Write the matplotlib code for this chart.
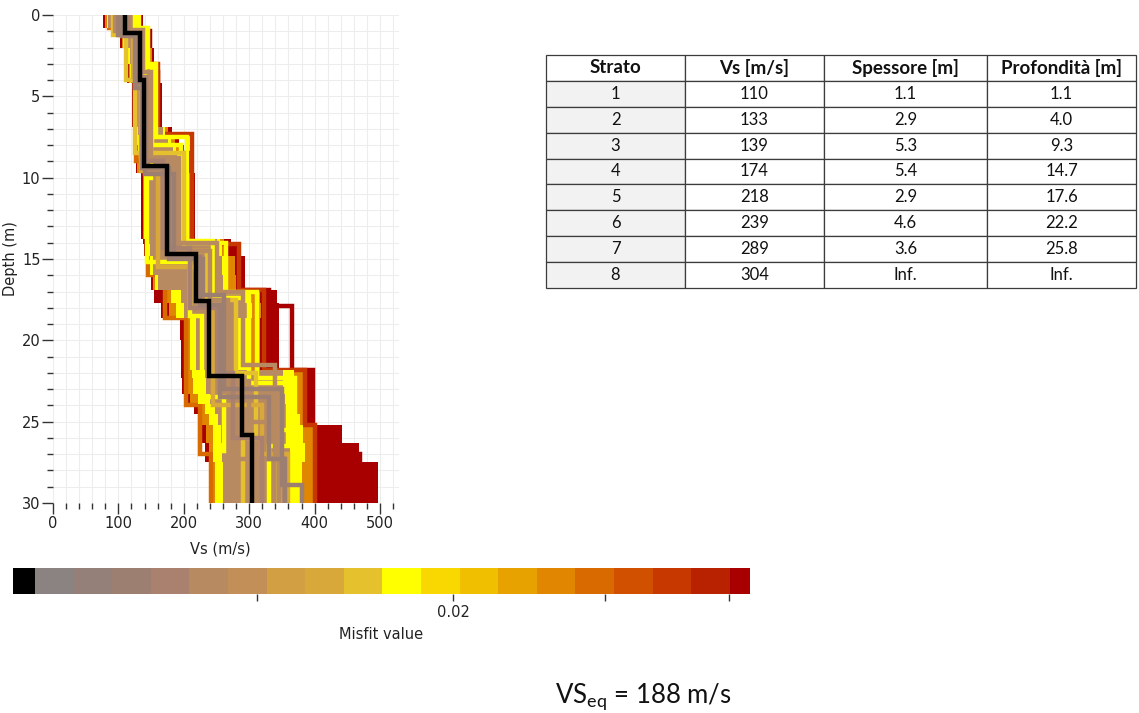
import numpy as np
import matplotlib
matplotlib.use('Agg')
import matplotlib.pyplot as plt
from matplotlib.colors import ListedColormap, BoundaryNorm
from matplotlib.ticker import MultipleLocator, FixedLocator, FixedFormatter, NullFormatter

# misfit palette, 20 classes (best -> worst)
palette = ['#000000', '#8b8282', '#958079', '#9c7f71', '#a9816e', '#b88a62',
           '#c38f58', '#d2a042', '#d9a83a', '#e6c12e', '#ffff00', '#f8d800',
           '#f0c000', '#e8a200', '#e08600', '#d86a00', '#d05000', '#c63800',
           '#b82200', '#a80000']
# class edges of the colour scale, log10(misfit)
cb_first_edge = -1.9656
cb_step = 0.02462
cb_lim = (10 ** -1.9796, 10 ** -1.5096)

# envelopes of the model ensemble per misfit class (depth grid, Vs left / right)
env_depth = [0, 0.8, 1.3, 2.0, 3.0, 4.2, 6.9, 7.4, 8.0, 8.6, 9.7, 13.8, 14.1, 14.8,
             16.0, 16.9, 17.7, 18.6, 20.0, 21.8, 22.3, 23.3, 23.9, 24.5, 25.2, 26.3, 27.5, 30]
red_lo = [76, 88, 102, 110, 113, 121, 124, 125, 126, 127, 134, 137, 139, 143,
          150, 155, 165, 194, 195, 195, 197, 203, 215, 222, 228, 233, 241]
red_hi = [138, 148, 150, 155, 160, 166, 182, 192, 200, 208, 217, 272, 282, 293,
          294, 342, 345, 345, 345, 398, 398, 398, 398, 398, 442, 468, 497]
orange_lo = [80, 91, 105, 113, 116, 124, 126, 127, 128, 129, 137, 140, 142, 146,
             153, 170, 178, 202, 202, 204, 204, 210, 222, 228, 234, 238, 244]
orange_hi = [135, 146, 147, 152, 157, 163, 176, 186, 193, 200, 212, 262, 268, 278,
             280, 316, 318, 316, 316, 382, 382, 382, 382, 382, 398, 400, 403]
yellow_lo = [82, 93, 107, 115, 118, 126, 128, 129, 130, 131, 139, 142, 145, 149,
             156, 180, 188, 209, 209, 213, 214, 222, 232, 238, 244, 245, 247]
yellow_hi = [134, 143, 145, 149, 154, 160, 172, 180, 188, 196, 206, 255, 258, 265,
             268, 302, 305, 302, 302, 368, 368, 370, 372, 378, 382, 385, 380]
tan_lo = [84, 95, 109, 117, 120, 128, 130, 131, 132, 133, 141, 145, 148, 153,
          160, 195, 200, 218, 218, 232, 234, 240, 248, 252, 257, 258, 260]
tan_hi = [130, 140, 142, 146, 150, 156, 168, 176, 184, 190, 199, 250, 252, 258,
          260, 292, 296, 280, 280, 352, 352, 355, 356, 358, 360, 362, 362]
band_misfit = [0.0305, 0.0233, 0.0185, 0.014]

# individual models: layer Vs (m/s) and interface depths (m)
model_vs = [
    [125, 148, 160, 210, 330, 365, 398, 470],
    [120, 142, 160, 212, 285, 322, 385, 400],
    [85, 115, 127, 145, 172, 203, 225, 242],
    [128, 142, 152, 195, 245, 300, 360, 330],
    [126, 140, 150, 143, 210, 228, 262, 252],
    [131, 145, 158, 205, 265, 312, 370, 345],
    [92, 112, 126, 200, 235, 280, 310, 290],
    [100, 122, 135, 160, 225, 245, 320, 360],
    [95, 128, 145, 182, 240, 268, 300, 345],
    [112, 138, 150, 192, 250, 290, 340, 270],
    [115, 135, 142, 168, 210, 250, 275, 320],
    [100, 125, 140, 185, 225, 255, 330, 355],
    [105, 128, 136, 178, 230, 262, 350, 380],
]
model_z = [
    [1.0, 3.5, 8.5, 16.9, 17.9, 21.8, 27.0],
    [1.0, 3.0, 7.3, 14.1, 16.9, 21.8, 25.2],
    [0.8, 2.5, 9.0, 16.0, 18.6, 24.0, 27.0],
    [1.0, 3.2, 8.0, 13.9, 17.4, 22.6, 26.5],
    [1.5, 4.5, 10.0, 15.2, 18.5, 23.5, 26.8],
    [0.8, 3.0, 7.5, 14.0, 17.0, 22.3, 25.5],
    [1.2, 4.0, 8.5, 14.5, 17.5, 22.0, 26.0],
    [1.0, 3.8, 9.6, 15.5, 18.0, 24.0, 27.0],
    [1.0, 4.0, 9.5, 14.5, 17.5, 22.5, 25.0],
    [0.9, 3.5, 8.8, 14.0, 17.0, 21.5, 27.3],
    [1.1, 3.8, 9.0, 14.3, 18.0, 22.0, 26.0],
    [1.2, 4.5, 9.8, 14.9, 17.8, 23.5, 27.3],
    [1.3, 4.2, 9.4, 15.0, 17.2, 23.0, 28.9],
]
model_misfit = [0.0305, 0.0276, 0.0246, 0.0185, 0.0185, 0.0185, 0.0175,
                0.0165, 0.014, 0.014, 0.0132, 0.0125, 0.0125]

# best model (table)
best_vs = [110, 133, 139, 174, 218, 239, 289, 304]
best_z = [1.1, 4.0, 9.3, 14.7, 17.6, 22.2, 25.8]
best_misfit = 0.0106

table_header = ['Strato', 'Vs [m/s]', 'Spessore [m]', 'Profondità [m]']
strato = ['1', '2', '3', '4', '5', '6', '7', '8']
vs_col = ['110', '133', '139', '174', '218', '239', '289', '304']
spessore = ['1.1', '2.9', '5.3', '5.4', '2.9', '4.6', '3.6', 'Inf.']
profondita = ['1.1', '4.0', '9.3', '14.7', '17.6', '22.2', '25.8', 'Inf.']
vs_eq = 188

max_depth = 30


def profile_xy(vs, z):
    xs = [vs[0]]
    ys = [0]
    for i, zi in enumerate(z):
        xs += [vs[i], vs[i + 1]]
        ys += [zi, zi]
    xs.append(vs[-1])
    ys.append(max_depth)
    return xs, ys


plt.rcParams['mathtext.fontset'] = 'custom'
plt.rcParams['mathtext.rm'] = 'Lato'

W, H = 1139, 713
fig = plt.figure(figsize=(W / 100, H / 100), dpi=100)

cmap = ListedColormap(palette)
edges = 10 ** (cb_first_edge + cb_step * (np.arange(21) - 1))
norm = BoundaryNorm(edges, 20)

# ---- profiles
ax = fig.add_axes([53 / W, 1 - 503 / H, 346 / W, 488 / H])
ax.set_xlim(0, 529)
ax.set_ylim(max_depth, 0)

bands = [(red_lo, red_hi), (orange_lo, orange_hi), (yellow_lo, yellow_hi), (tan_lo, tan_hi)]
band_z = [1.0, 1.2, 1.4, 1.5]
for (lo, hi), m, zo in zip(bands, band_misfit, band_z):
    ax.fill_betweenx(env_depth, lo + [lo[-1]], hi + [hi[-1]], step='post',
                     color=cmap(norm(m)), lw=0, zorder=zo)

for vs, z, m in zip(model_vs, model_z, model_misfit):
    xs, ys = profile_xy(vs, z)
    if m >= 0.03:
        zo = 1.1
    elif m >= 0.0233:
        zo = 1.3
    else:
        zo = 1.6 + (0.04 - m)
    ax.plot(xs, ys, color=cmap(norm(m)), lw=3.2, solid_joinstyle='miter', zorder=zo)

xs, ys = profile_xy(best_vs, best_z)
ax.plot(xs, ys, color=cmap(norm(best_misfit)), lw=3.2, solid_joinstyle='miter', zorder=3)

for s in ax.spines.values():
    s.set_visible(False)
ax.xaxis.set_major_locator(MultipleLocator(100))
ax.xaxis.set_minor_locator(MultipleLocator(20))
ax.yaxis.set_major_locator(MultipleLocator(5))
ax.yaxis.set_minor_locator(MultipleLocator(1))
ax.grid(which='both', color='#ededed', lw=0.8, zorder=0)
ax.set_axisbelow(True)
ax.tick_params(which='major', length=8, width=1, color='#333333', pad=1,
               labelsize=10.5, labelcolor='#222222')
ax.tick_params(which='minor', length=4, width=1, color='#333333')
ax.set_xlabel('Vs (m/s)', fontsize=10.5, color='#222222')
ax.set_ylabel('Depth (m)', fontsize=10.5, color='#222222')
ax.xaxis.set_label_coords(0.483, -0.078)
ax.yaxis.set_label_coords(-0.10, 0.5)

# ---- colour scale
cax = fig.add_axes([13 / W, 1 - 594 / H, 737 / W, 26 / H])
cax.set_xscale('log')
cax.pcolormesh(edges, [0, 1], np.arange(20).reshape(1, -1), cmap=cmap,
               vmin=-0.5, vmax=19.5)
cax.set_xlim(cb_lim)
cax.set_ylim(0, 1)
for s in cax.spines.values():
    s.set_visible(False)
cax.set_yticks([])
cax.xaxis.set_major_locator(FixedLocator([0.02]))
cax.xaxis.set_major_formatter(FixedFormatter(['0.02']))
cax.xaxis.set_minor_locator(FixedLocator([0.015, 0.025, 0.03]))
cax.xaxis.set_minor_formatter(NullFormatter())
cax.tick_params(which='both', length=5, width=1, color='#333333', pad=3,
                labelsize=10.5, labelcolor='#222222')
cax.set_xlabel('Misfit value', fontsize=10.5, color='#222222', labelpad=5)

# ---- table
tax = fig.add_axes([546 / W, 1 - 288 / H, 590 / W, 233 / H])
tax.axis('off')
rows = list(zip(strato, vs_col, spessore, profondita))
tb = tax.table(cellText=rows, colLabels=table_header, cellLoc='center',
               colWidths=[139 / 590, 139 / 590, 163 / 590, 149 / 590], bbox=[0, 0, 1, 1])
tb.auto_set_font_size(False)
for (r, c), cell in tb.get_celld().items():
    cell.set_edgecolor('#3c3c3c')
    cell.set_linewidth(0.9)
    txt = cell.get_text()
    txt.set_fontfamily('Lato')
    txt.set_fontsize(12)
    txt.set_color('#111111')
    if r == 0:
        txt.set_fontweight('bold')
        txt.set_fontsize(13.5)
        cell.set_facecolor('white')
    elif c == 0:
        cell.set_facecolor('#f2f2f2')
    else:
        cell.set_facecolor('white')

fig.text(643 / W, 1 - 697 / H, r'VS$_{\mathrm{eq}}$ = %d m/s' % vs_eq,
         ha='center', va='center', fontsize=18.5, family='Lato', color='#111111')

fig.savefig('out.png', dpi=100)
